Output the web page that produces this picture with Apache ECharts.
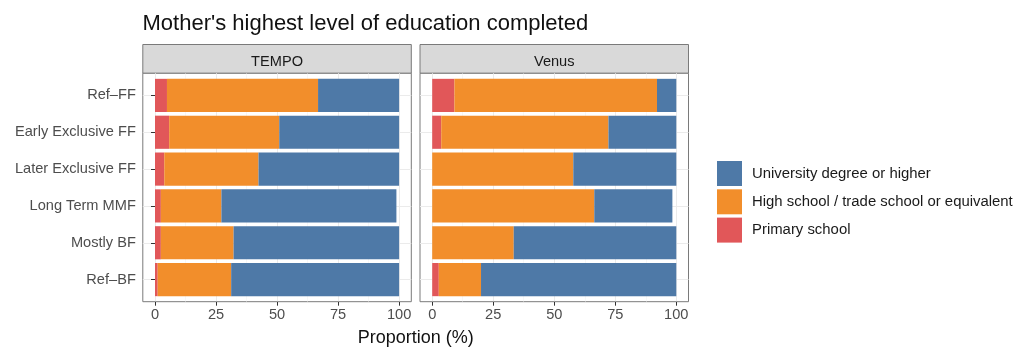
<!DOCTYPE html>
<html>
<head>
<meta charset="utf-8">
<script src="https://cdn.jsdelivr.net/npm/echarts@6/dist/echarts.min.js"></script>
<style>html,body{margin:0;padding:0;background:#fff}#c{width:1014px;height:347px}</style>
</head>
<body>
<div id="c"></div>
<script>
const categories = ['Ref–FF','Early Exclusive FF','Later Exclusive FF','Long Term MMF','Mostly BF','Ref–BF'];
const panels = ['TEMPO','Venus'];
const seriesNames = ['Primary school','High school / trade school or equivalent','University degree or higher'];
const tempoPrimary = [4.9,5.8,3.8,2.4,2.4,1.1];
const tempoHigh    = [61.9,45.1,38.6,24.8,29.8,30.1];
const tempoUniv    = [33.2,49.1,57.6,71.7,67.8,68.8];
const venusPrimary = [9.1,3.7,0,0,0,2.7];
const venusHigh    = [83.0,68.5,57.8,66.4,33.4,17.3];
const venusUniv    = [7.9,27.8,42.2,32.0,66.6,80.0];
const xTicks = [0,25,50,75,100];
const xMinor = [12.5,37.5,62.5,87.5];

const colors = ['#e15759','#f28e2b','#4e79a7'];
const font = 'Liberation Sans, Arial, Helvetica, sans-serif';
const fs = 14.6;
const panelData = [[tempoPrimary,tempoHigh,tempoUniv],[venusPrimary,venusHigh,venusUniv]];

// layout
const panelLeft = [142.8, 420];
const panelWidth = 268.5;
const stripTop = 44.5, stripH = 28.8;
const panelTop = 73.3, panelBottom = 301.7;
const unit = (panelBottom - panelTop) / 6.2;

const grid = [], xAxis = [], yAxis = [], series = [], titles = [];
panels.forEach((p, k) => {
  const base = k * 3;
  // strip
  grid.push({left: panelLeft[k], width: panelWidth, top: stripTop, height: stripH, show: true,
    backgroundColor: '#d9d9d9', borderColor: '#7a7a7a', borderWidth: 1, outerBoundsMode: 'none'});
  xAxis.push({gridIndex: base, type: 'value', show: false});
  yAxis.push({gridIndex: base, type: 'value', show: false});
  titles.push({text: p, left: panelLeft[k] + panelWidth / 2, top: stripTop + stripH / 2 - 4.5, textAlign: 'center', padding: 0,
    textStyle: {fontSize: fs, fontWeight: 'normal', color: '#1a1a1a', fontFamily: font}});
  // outer panel
  grid.push({left: panelLeft[k], width: panelWidth, top: panelTop, height: panelBottom - panelTop, show: true,
    backgroundColor: '#fff', borderColor: '#7a7a7a', borderWidth: 1, outerBoundsMode: 'none'});
  xAxis.push({gridIndex: base + 1, type: 'value', min: -5, max: 105,
    axisLine: {show: false},
    axisTick: {show: true, customValues: xTicks, length: 4, lineStyle: {color: '#333'}},
    axisLabel: {show: true, customValues: xTicks, margin: 6, fontSize: fs, color: '#4d4d4d', fontFamily: font},
    splitLine: {show: true, lineStyle: {color: '#ebebeb', width: 1}}});
  xAxis.push({gridIndex: base + 1, type: 'value', min: -5, max: 105,
    axisLine: {show: false}, axisLabel: {show: false},
    axisTick: {show: false, customValues: xMinor},
    splitLine: {show: true, lineStyle: {color: '#f2f2f2', width: 0.6}}});
  yAxis.push({gridIndex: base + 1, type: 'value', show: false});
  // inner panel
  grid.push({left: panelLeft[k], width: panelWidth, top: panelTop + 0.1 * unit, height: 6 * unit, outerBoundsMode: 'none'});
  xAxis.push({gridIndex: base + 2, type: 'value', min: -5, max: 105, show: false});
  yAxis.push({gridIndex: base + 2, type: 'category', data: categories, inverse: true,
    axisLine: {show: false},
    axisTick: {show: k === 0, alignWithLabel: true, length: 4, lineStyle: {color: '#333'}},
    axisLabel: {show: k === 0, margin: 7, fontSize: fs, color: '#4d4d4d', fontFamily: font},
    splitLine: {show: true, alignWithLabel: true, lineStyle: {color: '#ebebeb', width: 1}}});
});

// xAxis order per panel: strip(0), outer major(1), outer minor(2), inner(3)
panels.forEach((p, k) => {
  seriesNames.forEach((name, s) => {
    series.push({name: name, type: 'bar', stack: p, barWidth: '90%',
      xAxisIndex: k * 4 + 3, yAxisIndex: k * 3 + 2,
      itemStyle: {color: colors[s]}, data: panelData[k][s], emphasis: {disabled: true}});
  });
});

titles.push({text: "Mother's highest level of education completed", left: 142.5, top: 12.5, padding: 0,
  textStyle: {fontSize: 22, fontWeight: 'normal', color: '#111', fontFamily: font}});
titles.push({text: 'Proportion (%)', left: (panelLeft[0] + panelLeft[1] + panelWidth) / 2, top: 329, textAlign: 'center', padding: 0,
  textStyle: {fontSize: 18, fontWeight: 'normal', color: '#111', fontFamily: font}});

const chart = echarts.init(document.getElementById('c'), null, {renderer: 'canvas'});
chart.setOption({
  animation: false,
  backgroundColor: '#fff',
  title: titles,
  grid: grid,
  xAxis: xAxis,
  yAxis: yAxis,
  legend: {orient: 'vertical', left: 717, top: 161, padding: 0, itemWidth: 25, itemHeight: 25, itemGap: 3.3, icon: 'rect',
    data: ['University degree or higher','High school / trade school or equivalent','Primary school'],
    textStyle: {fontSize: 14.9, color: '#1a1a1a', fontFamily: font, padding: [0, 0, 0, 5]}},
  series: series
});
</script>
</body>
</html>
